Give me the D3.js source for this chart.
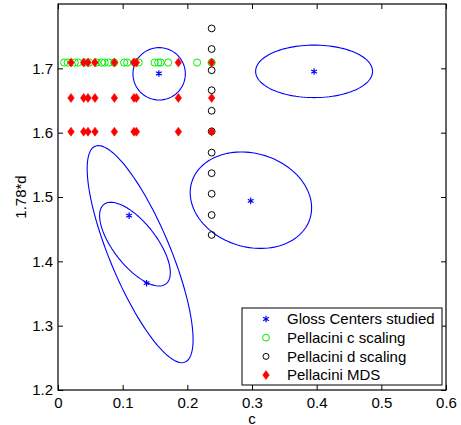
<!DOCTYPE html>
<html>
<head>
<meta charset="utf-8">
<script src="https://cdn.jsdelivr.net/npm/d3@7"></script>
<style>
	body { margin: 0; background: #fff; }
	svg text { font-family: "Liberation Sans", Arial, sans-serif; }
</style>
</head>
<body>
<svg width="461" height="425"></svg>
<script>
// blue stars
var glossC = [0.156, 0.396, 0.298, 0.110, 0.137];
var glossD = [1.692, 1.695, 1.494, 1.471, 1.366];

// ellipses round the centers (data units, angle in degrees)
var ellCx = [0.1564, 0.396, 0.2983, 0.127, 0.119];
var ellCy = [1.6915, 1.6953, 1.495, 1.4112, 1.4267];
var ellA = [0.0405, 0.0904, 0.0957, 0.1816, 0.0782];
var ellB = [0.0407, 0.0408, 0.0726, 0.0469, 0.0333];
var ellAngle = [0, 0, -17.4, -67.5, -52.2];

// green circles, all on one row
var cScaleC = [0.0096, 0.015, 0.0258, 0.0312, 0.0413, 0.0482, 0.0598, 0.0675, 0.0722, 0.0784,
	0.0869, 0.1023, 0.107, 0.1185, 0.1247, 0.1494, 0.1549, 0.1587, 0.1703, 0.2151, 0.2376];
var cScaleD = 1.709;

// black circles, one column
var dScaleC = 0.2376;
var dScaleD = [1.762, 1.730, 1.697, 1.666, 1.634, 1.602, 1.569, 1.537, 1.505, 1.472, 1.441];

// red diamonds, 3 rows with the same c values
var mdsC = [0.0201, 0.0397, 0.0464, 0.0572, 0.0872, 0.1175, 0.1212, 0.1861, 0.2376];
var mdsRows = [1.709, 1.654, 1.6015];

var xTicks = [0, 0.1, 0.2, 0.3, 0.4, 0.5, 0.6];
var yTicks = [1.2, 1.3, 1.4, 1.5, 1.6, 1.7];

var legendNames = ["Gloss Centers studied", "Pellacini c scaling", "Pellacini d scaling", "Pellacini MDS"];

var svg = d3.select("svg"),
	pL = 58, pR = 446, pT = 4, pB = 390;

var x = d3.scaleLinear().domain([0, 0.6]).range([pL, pR]);
var y = d3.scaleLinear().domain([1.2, 1.8]).range([pB, pT]);

var fmt = function(d) { return d === 0 ? "0" : d3.format(".1f")(d); };

function styleAxis(g) {
	g.select(".domain").remove();
	g.selectAll("line").attr("stroke", "#000");
	g.selectAll("text").attr("font-size", 15).attr("fill", "#000");
}

svg.append("g").attr("transform", "translate(0," + pB + ")")
	.call(d3.axisBottom(x).tickValues(xTicks).tickFormat(fmt).tickSize(-5).tickPadding(7))
	.call(styleAxis);
svg.append("g").attr("transform", "translate(0," + pT + ")")
	.call(d3.axisTop(x).tickValues(xTicks).tickFormat("").tickSize(-5))
	.call(styleAxis);
svg.append("g").attr("transform", "translate(" + pL + ",0)")
	.call(d3.axisLeft(y).tickValues(yTicks).tickFormat(fmt).tickSize(-5).tickPadding(5))
	.call(styleAxis);
svg.append("g").attr("transform", "translate(" + pR + ",0)")
	.call(d3.axisRight(y).tickValues(yTicks).tickFormat("").tickSize(-5))
	.call(styleAxis);

svg.append("rect")
	.attr("x", pL).attr("y", pT)
	.attr("width", pR - pL).attr("height", pB - pT)
	.attr("fill", "none").attr("stroke", "#000").attr("stroke-width", 1.2);

svg.append("text").attr("x", (pL + pR) / 2).attr("y", 423.5)
	.attr("text-anchor", "middle").attr("font-size", 15).text("c");
svg.append("text").attr("transform", "translate(21," + ((pT + pB) / 2) + ") rotate(-90)")
	.attr("text-anchor", "middle").attr("dy", "0.35em").attr("font-size", 15).text("1.78*d");

var plot = svg.append("g");

// ellipses
var line = d3.line().x(function(p) { return x(p[0]); }).y(function(p) { return y(p[1]); });
ellCx.forEach(function(cx, i) {
	var th = ellAngle[i] * Math.PI / 180, pts = [];
	for (var k = 0; k <= 120; k++) {
		var t = k / 120 * 2 * Math.PI;
		var u = ellA[i] * Math.cos(t), v = ellB[i] * Math.sin(t);
		pts.push([cx + u * Math.cos(th) - v * Math.sin(th), ellCy[i] + u * Math.sin(th) + v * Math.cos(th)]);
	}
	plot.append("path").attr("d", line(pts))
		.attr("fill", "none").attr("stroke", "#0000ff").attr("stroke-width", 1.1);
});

var star = d3.symbol().type(d3.symbolAsterisk).size(30);
function diamond(w, h) {
	return "M0," + (-h) + "L" + w + ",0L0," + h + "L" + (-w) + ",0Z";
}

plot.selectAll(".star").data(glossC).enter().append("path")
	.attr("class", "star")
	.attr("transform", function(d, i) { return "translate(" + x(d) + "," + y(glossD[i]) + ")"; })
	.attr("d", star).attr("fill", "none").attr("stroke", "#0000ff").attr("stroke-width", 1.2);

plot.selectAll(".cs").data(cScaleC).enter().append("circle")
	.attr("class", "cs")
	.attr("cx", function(d) { return x(d); }).attr("cy", y(cScaleD)).attr("r", 3.6)
	.attr("fill", "none").attr("stroke", "#00ee00").attr("stroke-width", 1);

plot.selectAll(".ds").data(dScaleD).enter().append("circle")
	.attr("class", "ds")
	.attr("cx", x(dScaleC)).attr("cy", function(d) { return y(d); }).attr("r", 3.4)
	.attr("fill", "none").attr("stroke", "#000").attr("stroke-width", 1);

mdsRows.forEach(function(row) {
	plot.selectAll(null).data(mdsC).enter().append("path")
		.attr("transform", function(d) { return "translate(" + x(d) + "," + y(row) + ")"; })
		.attr("d", diamond(3.3, 4.5)).attr("fill", "#ff0000").attr("stroke", "#ff0000").attr("stroke-width", 0.5);
});

// legend
var leg = svg.append("g").attr("transform", "translate(242,308)");
leg.append("rect").attr("width", 200).attr("height", 77)
	.attr("fill", "#fff").attr("stroke", "#000").attr("stroke-width", 1);

var item = leg.selectAll(".legend").data(legendNames).enter().append("g")
	.attr("class", "legend")
	.attr("transform", function(d, i) { return "translate(0," + (11 + i * 18.7) + ")"; });

item.append("text").attr("x", 45).attr("dy", "0.35em").attr("font-size", 15)
	.text(function(d) { return d; });

item.each(function(d, i) {
	var g = d3.select(this);
	if (i === 0) g.append("path").attr("transform", "translate(24,0)").attr("d", star)
		.attr("fill", "none").attr("stroke", "#0000ff").attr("stroke-width", 1.2);
	if (i === 1) g.append("circle").attr("cx", 24).attr("r", 3.4)
		.attr("fill", "none").attr("stroke", "#00ee00");
	if (i === 2) g.append("circle").attr("cx", 24).attr("r", 3)
		.attr("fill", "none").attr("stroke", "#000");
	if (i === 3) g.append("path").attr("transform", "translate(24,0)").attr("d", diamond(3.3, 4.5))
		.attr("fill", "#ff0000").attr("stroke", "#ff0000").attr("stroke-width", 0.5);
});
</script>
</body>
</html>
